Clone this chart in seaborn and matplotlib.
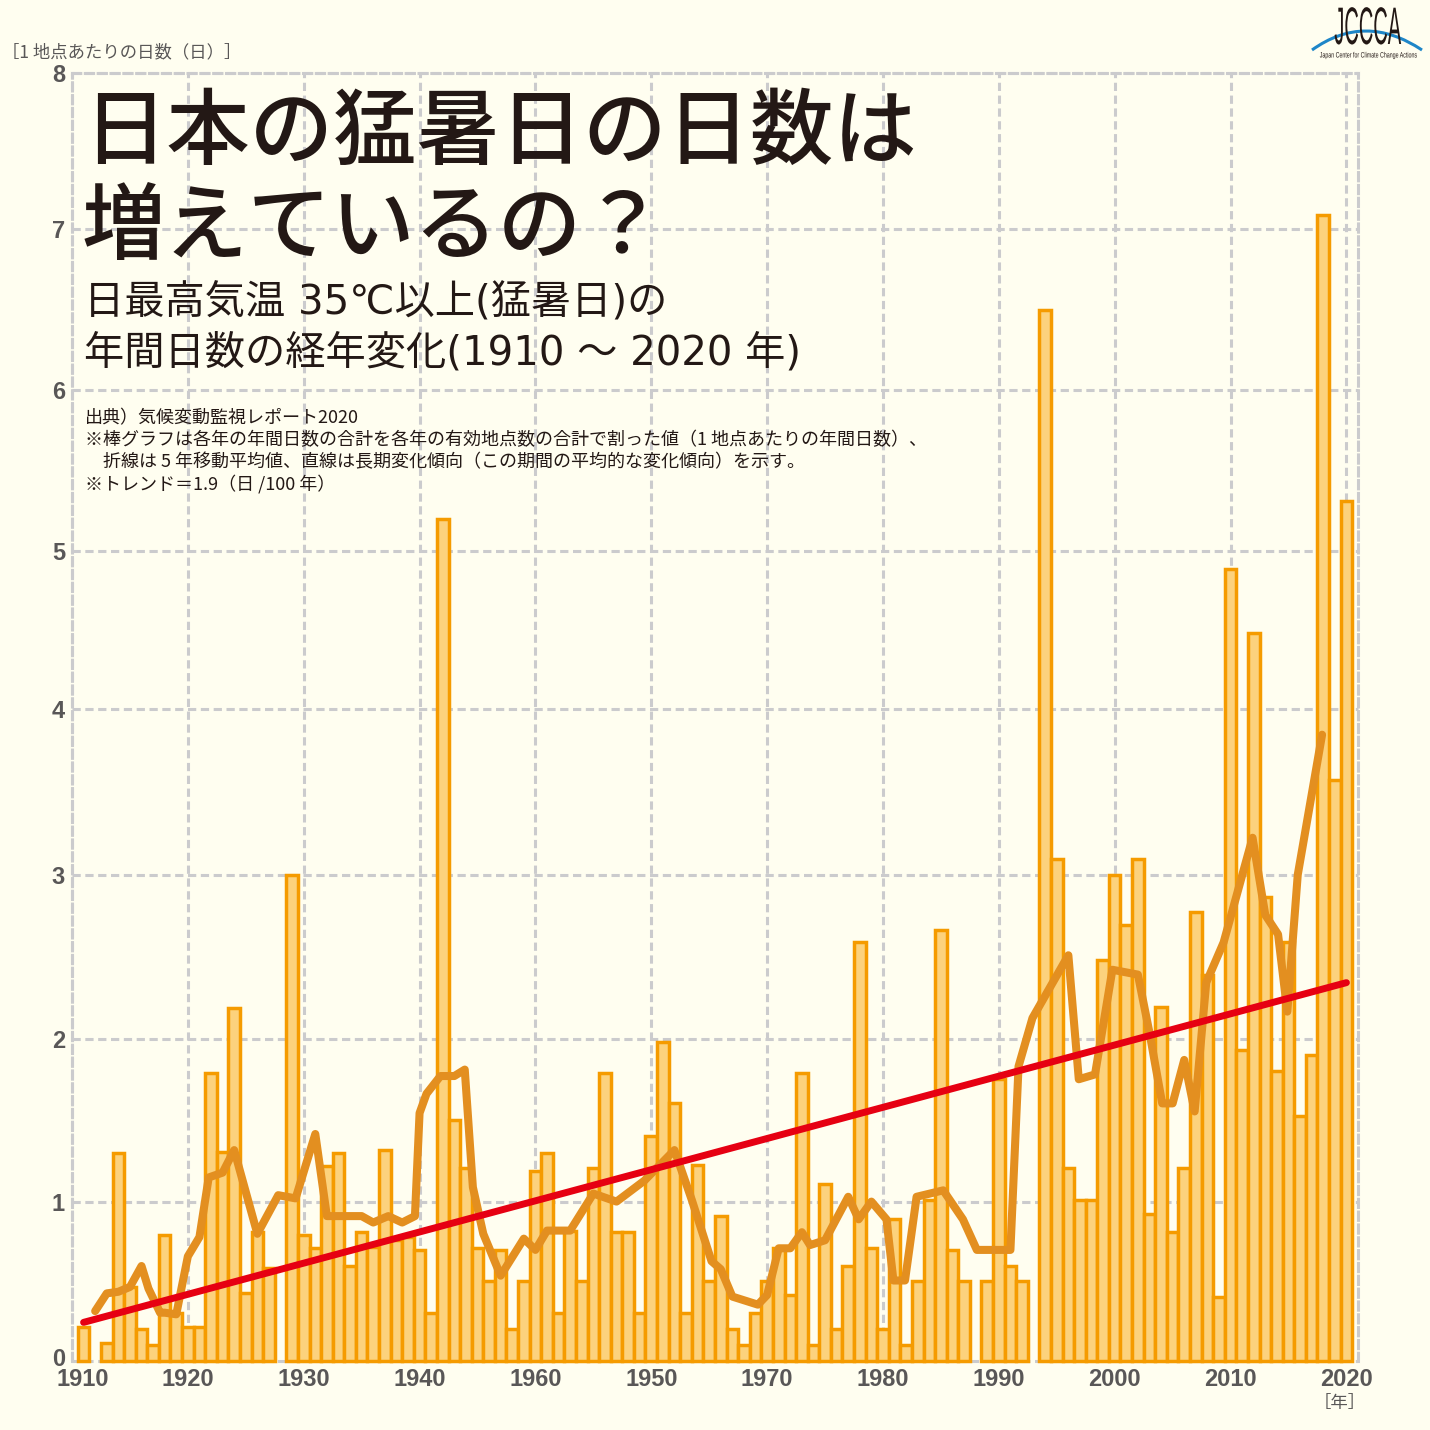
import matplotlib
matplotlib.use("Agg")
import matplotlib.pyplot as plt
from matplotlib.patches import PathPatch
from matplotlib.path import Path
from matplotlib.patheffects import AbstractPathEffect
from matplotlib.transforms import Affine2D, ScaledTranslation
import pandas as pd
import seaborn as sns

# --- data ---
bar_years = [1911] + list(range(1913, 1928)) + list(range(1929, 1988)) + list(range(1989, 1993)) + list(range(1994, 2021))
bar_days = [
    0.21,
    0.11, 1.29, 0.46, 0.20, 0.10, 0.78, 0.30, 0.21, 0.21, 1.79, 1.30, 2.19, 0.42, 0.80, 0.58,
    3.02, 0.78, 0.70, 1.21, 1.29, 0.59, 0.80, 0.71, 1.31, 0.75, 0.77, 0.69, 0.30, 5.23, 1.50,
    1.20, 0.70, 0.50, 0.69, 0.20, 0.50, 1.18, 1.29, 0.30, 0.81, 0.50, 1.20, 1.79, 0.80, 0.80,
    0.30, 1.40, 1.98, 1.60, 0.30, 1.22, 0.50, 0.90, 0.20, 0.10, 0.30, 0.50, 0.70, 0.41, 1.79,
    0.10, 1.10, 0.20, 0.59, 2.60, 0.70, 0.20, 0.88, 0.10, 0.50, 1.00, 2.68, 0.69, 0.50,
    0.50, 1.75, 0.59, 0.50,
    6.53, 3.12, 1.20, 1.00, 1.00, 2.49, 3.02, 2.71, 3.12, 0.91, 2.20, 0.80, 1.20, 2.79, 2.40,
    0.40, 4.92, 1.93, 4.52, 2.88, 1.80, 2.60, 1.52, 1.90, 7.12, 3.61, 5.34,
]
ma_years = [
    1912, 1913, 1914, 1915, 1916, 1916.6, 1917.6, 1918, 1919, 1920, 1921, 1921.8, 1923, 1924,
    1926, 1927.8, 1929.3, 1931, 1932, 1935, 1936, 1937.3, 1938.5, 1939.6, 1940, 1940.6, 1941.8,
    1943, 1943.9, 1944.6, 1945.5, 1947, 1949, 1950, 1951, 1953, 1955, 1957, 1959.4, 1962,
    1963.5, 1965.2, 1966, 1967, 1969.2, 1970, 1971, 1972, 1973, 1973.7, 1975, 1977, 1977.9,
    1979, 1980.3, 1980.9, 1981.9, 1982.9, 1985.2, 1986.9, 1988.1, 1991, 1991.7, 1992.9, 1996,
    1996.9, 1998.3, 1999.8, 2002, 2003, 2004.1, 2005, 2006, 2006.9, 2007.9, 2009.4, 2011.9,
    2013, 2014.1, 2014.9, 2015.8, 2017.9,
]
ma_days = [
    0.31, 0.42, 0.43, 0.46, 0.59, 0.45, 0.30, 0.30, 0.29, 0.65, 0.77, 1.14, 1.17, 1.31,
    0.79, 1.03, 1.01, 1.41, 0.90, 0.90, 0.86, 0.90, 0.86, 0.90, 1.54, 1.66, 1.77,
    1.77, 1.81, 1.08, 0.79, 0.53, 0.76, 0.69, 0.81, 0.81, 1.04, 0.99, 1.12, 1.31,
    1.00, 0.62, 0.57, 0.40, 0.35, 0.41, 0.70, 0.70, 0.80, 0.72, 0.75, 1.02, 0.88,
    0.99, 0.88, 0.50, 0.50, 1.02, 1.06, 0.88, 0.69, 0.69, 1.83, 2.13, 2.52,
    1.75, 1.78, 2.43, 2.40, 2.04, 1.60, 1.60, 1.87, 1.55, 2.35, 2.60, 3.25,
    2.77, 2.65, 2.17, 3.02, 3.89,
]
trend_years = [1911, 2020]
trend_days = [0.24, 2.35]

x_ticks = list(range(1910, 2021, 10))
# the source really prints 1960 before 1950
x_labels = ["1910", "1920", "1930", "1940", "1960", "1950", "1970", "1980", "1990", "2000", "2010", "2020"]
y_ticks = [0, 0.99, 2.0, 3.02, 4.05, 5.03, 6.03, 7.03, 8]
y_labels = ["0", "1", "2", "3", "4", "5", "6", "7", "8"]

title_lines = ["日本の猛暑日の日数は", "増えているの？"]
sub_lines = ["日最高気温 35℃以上(猛暑日)の", "年間日数の経年変化(1910 ～ 2020 年)"]
note_lines = [
    "出典）気候変動監視レポート2020",
    "※棒グラフは各年の年間日数の合計を各年の有効地点数の合計で割った値（1 地点あたりの年間日数）、",
    "　折線は 5 年移動平均値、直線は長期変化傾向（この期間の平均的な変化傾向）を示す。",
    "※トレンド＝1.9（日 /100 年）",
]

BG = "#FFFEF0"
GRID = "#CBCBCD"
INK = "#231815"
GRAY = "#595757"


class Squeeze(AbstractPathEffect):
    # narrows drawn glyphs towards their right edge, for the condensed logo lettering
    def __init__(self, sx, right):
        super().__init__()
        self.sx = sx
        self.right = right

    def draw_path(self, renderer, gc, tpath, affine, rgbFace=None):
        squeeze = Affine2D().translate(-self.right, 0).scale(self.sx, 1).translate(self.right, 0)
        renderer.draw_path(gc, tpath, affine + squeeze, rgbFace)


sns.set_theme(style="white")
plt.rcParams["font.family"] = ["Noto Sans CJK JP", "DejaVu Sans"]

W, H = 1430, 1430
fig = plt.figure(figsize=(W / 100, H / 100), dpi=100, facecolor=BG)
ax = fig.add_axes([72 / W, 1 - 1361 / H, (1358 - 72) / W, (1361 - 73) / H], facecolor=BG)

dash = (0, (2.7, 1.5))
ax.grid(True, color=GRID, lw=2.2, linestyle=dash, clip_on=False)
ax.set_axisbelow(True)

bars = pd.DataFrame({"year": bar_years, "days": bar_days})
sns.barplot(data=bars, x="year", y="days", native_scale=True, width=1, color="#FCD27D", saturation=1,
            edgecolor="#F59B00", linewidth=2.5, errorbar=None, ax=ax)
for bar in ax.patches:
    bar.set_clip_on(False)

sns.lineplot(x=ma_years, y=ma_days, color="#E38F20", lw=5.8, sort=False, errorbar=None, ax=ax,
             solid_capstyle="round", solid_joinstyle="round", zorder=3)
sns.lineplot(x=trend_years, y=trend_days, color="#E60012", lw=5, sort=False, errorbar=None, ax=ax,
             solid_capstyle="round", zorder=4)

ax.set_xlim(1910, 2021)
ax.set_ylim(0, 8)
ax.set_xlabel("")
ax.set_ylabel("")
ax.set_xticks(x_ticks, x_labels)
ax.set_yticks(y_ticks, y_labels)
ax.tick_params(length=0, pad=5, labelsize=17, labelcolor=GRAY)
for lab in ax.get_xticklabels() + ax.get_yticklabels():
    lab.set_family("Liberation Sans")
    lab.set_fontweight("bold")
# first year label sits over the first bar, not on the frame
first = ax.get_xticklabels()[0]
first.set_transform(first.get_transform() + ScaledTranslation(11 / 100, 0, fig.dpi_scale_trans))
zero = ax.get_yticklabels()[0]
zero.set_transform(zero.get_transform() + ScaledTranslation(0, 4 / 100, fig.dpi_scale_trans))

for side in ["left", "right", "top"]:
    ax.spines[side].set(color=GRID, lw=2.2, linestyle=dash)
ax.spines["bottom"].set_visible(False)


def px_text(x, y, s, size, color=INK, **kw):
    return fig.text(x / W, 1 - y / H, s, fontsize=size, color=color, va="center", **kw)


px_text(83, 134, title_lines[0], 60, weight="medium")
px_text(82, 229, title_lines[1], 60, weight="medium")
latin_first = ["DejaVu Sans", "Noto Sans CJK JP"]
px_text(84, 304, sub_lines[0], 29, family=latin_first)
px_text(84, 354, sub_lines[1], 29, family=latin_first)
for i, line in enumerate(note_lines):
    px_text(85, 418 + 22 * i, line, 13)

px_text(2, 52, "［1 地点あたりの日数（日）］", 12.5, color=GRAY)
px_text(1314, 1403, "［年］", 12.5, color=GRAY)

# logo
arc = Path([(1312 / W, 1 - 50 / H), (1365 / W, 1 - 12 / H), (1422 / W, 1 - 50 / H)],
           [Path.MOVETO, Path.CURVE3, Path.CURVE3])
fig.add_artist(PathPatch(arc, fc="none", ec="#1E86C8", lw=2.2, transform=fig.transFigure))
px_text(1401, 30, "JCCCA", 38, family="Liberation Sans", ha="right",
        path_effects=[Squeeze(0.38, 1401)])
px_text(1417, 56, "Japan Center for Climate Change Actions", 5.6, family="Liberation Sans", ha="right",
        path_effects=[Squeeze(0.68, 1417)])

fig.savefig("out.png", dpi=100, facecolor=BG)
